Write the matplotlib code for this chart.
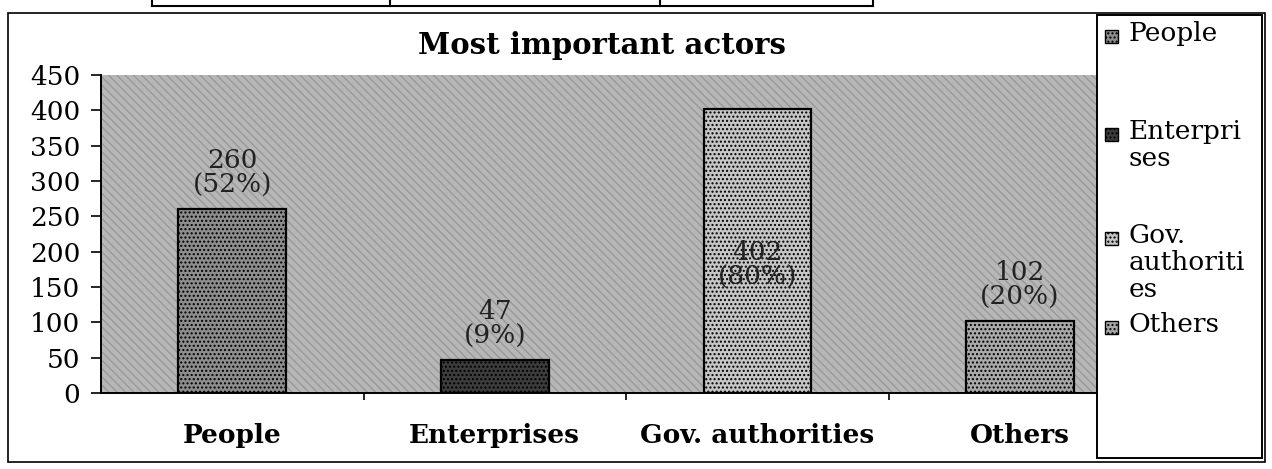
import matplotlib
matplotlib.use("Agg")
import matplotlib.pyplot as plt
import matplotlib.patches as patches
from matplotlib.lines import Line2D

# data
categories = ["People", "Enterprises", "Gov. authorities", "Others"]
legend_labels = ["People", "Enterpri\nses", "Gov.\nauthoriti\nes", "Others"]
counts = [260, 47, 402, 102]
percents = [52, 9, 80, 20]
bar_colors = ["#8e8e8e", "#3c3c3c", "#c6c6c6", "#a9a9a9"]
yticks = [0, 50, 100, 150, 200, 250, 300, 350, 400, 450]

SERIF = ["DejaVu Serif", "Liberation Serif"]

fig = plt.figure(figsize=(12.72, 4.69), dpi=100)
W, H = 1272.0, 469.0


def fx(px):
    return px / W


def fy(py):
    return 1 - py / H


# axes box in pixels: left 101, right 1096, top 75, bottom 393
ax = fig.add_axes([fx(101), fy(393), fx(1096) - fx(101), fy(75) - fy(393)])
ax.set_facecolor("#b7b7b7")
ax.patch.set_hatch("\\\\\\\\")
ax.patch.set_edgecolor("#999999")

x = list(range(len(categories)))
ax.bar(x, counts, width=0.41, color=bar_colors, edgecolor="black", linewidth=1.6,
       hatch="....", zorder=2)

ax.set_xlim(-0.5, 3.29)
ax.set_ylim(0, 450)
ax.set_yticks(yticks)
ax.set_yticklabels([str(t) for t in yticks], family=SERIF, fontsize=19)
ax.set_xticks([0.5, 1.5, 2.5])
ax.set_xticklabels([])
ax.tick_params(axis="y", length=7, width=1.2, pad=8, direction="out")
ax.tick_params(axis="x", length=5, width=1.2, direction="out")
for s in ["top", "right"]:
    ax.spines[s].set_visible(False)
ax.spines["left"].set_linewidth(1.4)
ax.spines["bottom"].set_linewidth(1.4)

for i, name in enumerate(categories):
    ax.text(i, -60, name, ha="center", va="center", fontsize=19, fontweight="bold",
            family=SERIF, clip_on=False)

# value labels (the tall Gov. bar has its label inside)
for i, (c, p) in enumerate(zip(counts, percents)):
    txt = "%d\n(%d%%)" % (c, p)
    if c > 350:
        ax.text(i, c * 0.45, txt, ha="center", va="center", fontsize=19,
                family=SERIF, linespacing=1.0, color="#222222", zorder=3)
    else:
        ax.annotate(txt, (i, c), xytext=(0, 8), textcoords="offset points",
                    ha="center", va="bottom", fontsize=19, family=SERIF,
                    linespacing=1.0, color="#222222", zorder=3)

fig.text(fx(602), fy(45), "Most important actors", ha="center", va="center",
         fontsize=21, fontweight="bold", family=SERIF)

# outer frame of the chart object
fig.add_artist(patches.Rectangle((fx(8), fy(462)), fx(1265) - fx(8), fy(13) - fy(462),
                                 transform=fig.transFigure, fill=False,
                                 edgecolor="black", linewidth=1.2))
# legend box
fig.add_artist(patches.Rectangle((fx(1097), fy(458)), fx(1262) - fx(1097), fy(15) - fy(458),
                                 transform=fig.transFigure, facecolor="white",
                                 edgecolor="black", linewidth=1.4))
legend_y = [36, 134, 238, 327]
for lab, col, ly in zip(legend_labels, bar_colors, legend_y):
    fig.add_artist(patches.Rectangle((fx(1105), fy(ly + 7)), fx(13), fy(0) - fy(13),
                                     transform=fig.transFigure, facecolor=col,
                                     edgecolor="black", linewidth=1.0, hatch="...."))
    fig.text(fx(1129), fy(ly - 15), lab, ha="left", va="top", fontsize=19,
             family=SERIF, linespacing=1.1)

# remains of the table above the chart in the scan
for xs in [152, 390, 660, 873]:
    fig.add_artist(Line2D([fx(xs), fx(xs)], [fy(0), fy(6)], transform=fig.transFigure,
                          color="black", linewidth=1.5))
fig.add_artist(Line2D([fx(152), fx(873)], [fy(6), fy(6)], transform=fig.transFigure,
                      color="black", linewidth=1.5))

fig.savefig("out.png", dpi=100)
